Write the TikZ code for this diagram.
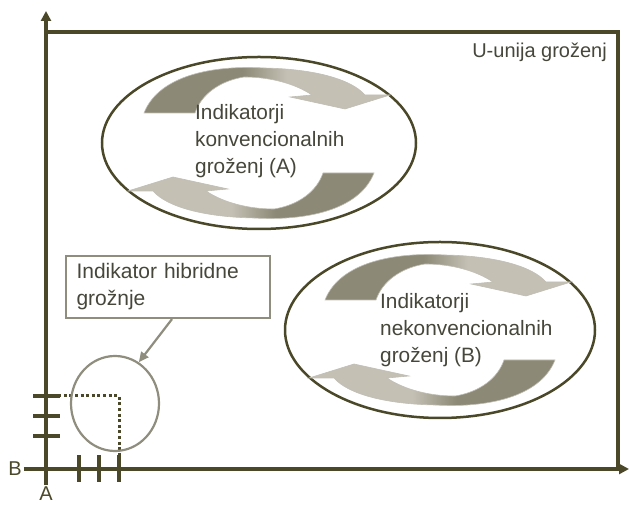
\documentclass[tikz,border=0pt]{standalone}
\usepackage{fontspec}
\setmainfont{Liberation Sans}
\usetikzlibrary{arrows.meta,shapes.geometric}

\definecolor{axiscol}{HTML}{4A4828}
\definecolor{txtcol}{HTML}{46463A}
\definecolor{boxcol}{HTML}{8E8D7E}
\definecolor{arrdark}{HTML}{8C8976}
\definecolor{arrlight}{HTML}{C4C0B4}

\pgfdeclarehorizontalshading{arrdl}{100bp}{color(0bp)=(arrdark); color(45bp)=(arrdark); color(54bp)=(arrlight); color(100bp)=(arrlight)}
\pgfdeclarehorizontalshading{arrld}{100bp}{color(0bp)=(arrlight); color(46bp)=(arrlight); color(55bp)=(arrdark); color(100bp)=(arrdark)}

\tikzset{
  axis/.style={draw=axiscol, line width=3.2pt, -{Triangle[length=10pt,width=10pt]}},
  frameline/.style={draw=axiscol, line width=3.2pt},
  tickmark/.style={draw=axiscol, line width=3.2pt},
  guide/.style={draw=axiscol, line width=3pt, dash pattern=on 3pt off 2.6pt},
  ring/.style={ellipse, draw=axiscol, line width=2.5pt, inner sep=0pt},
  ringtext/.style={anchor=west, align=left, inner sep=0pt, text=txtcol,
    font=\fontsize{20.8}{27}\selectfont},
  hybbox/.style={draw=boxcol, line width=2.2pt, minimum width=204pt, minimum height=62pt,
    text width=183pt, inner xsep=10.5pt, align=left, text=txtcol,
    font=\fontsize{21}{27}\selectfont},
  hybcircle/.style={ellipse, draw=boxcol, line width=2.2pt, minimum width=88pt,
    minimum height=95pt, inner sep=0pt},
  pointer/.style={draw=boxcol, line width=2.2pt, -{Triangle[length=10pt,width=9pt]}},
  lbl/.style={text=axiscol, inner sep=2pt, font=\fontsize{20}{24}\selectfont},
  cyclearrow/.style={draw=arrdark!55!white, line width=0.6pt}
}

% two curved arrows of one cycle, round the centre #1
\newcommand{\cyclearrows}[1]{%
  \begin{scope}[shift={#1}]
    \shadedraw[cyclearrow, shading=arrdl]
      (-115,30) .. controls (-100,68) and (-45,78) .. (5,75)
      .. controls (55,74) and (92,64) .. (106,48) -- (131,48) -- (86,34)
      -- (31,46) -- (53,48) .. controls (35,60) and (10,66) .. (-15,66)
      .. controls (-40,62) and (-58,48) .. (-64,30) -- cycle;
    \shadedraw[cyclearrow, shading=arrld]
      (115,-30) .. controls (100,-68) and (45,-78) .. (-5,-75)
      .. controls (-55,-74) and (-92,-64) .. (-106,-48) -- (-131,-48) -- (-86,-34)
      -- (-31,-46) -- (-53,-48) .. controls (-35,-60) and (-10,-66) .. (15,-66)
      .. controls (40,-62) and (58,-48) .. (64,-30) -- cycle;
  \end{scope}}

\begin{document}
\begin{tikzpicture}[x=1pt,y=1pt]
  \useasboundingbox (0,0) rectangle (629,505);

  % axes and frame
  \node[lbl] (B) at (15,36) {B};
  \node[lbl] (A) at (46,11) {A};
  \coordinate (xend) at (629,36);
  \coordinate (yend) at (46,494);
  \coordinate (tl) at (46,473);
  \coordinate (br) at (618,36);
  \draw[frameline] (tl) -| (br);
  \draw[axis] (B.east) -- (xend);
  \draw[axis] (A.north) -- (yend);
  \node[anchor=east, inner sep=0pt, text=txtcol, font=\fontsize{20}{24}\selectfont]
    (union) at (607,453) {U-unija groženj};

  % ticks and the hybrid point
  \foreach \y in {69,89,109}
    \draw[tickmark] (33,\y) -- (60,\y);
  \foreach \x in {79,99,119}
    \draw[tickmark] (\x,23) -- (\x,50);
  \coordinate (hybpt) at (119,109);
  \draw[guide] (47,109) -- (hybpt) -- (119,37);
  \node[hybcircle] (hyb) at (115,101.5) {};
  \node[hybbox] (hybrid) at (168,218) {Indikator hibridne\\grožnje};
  \draw[pointer] ([xshift=4pt]hybrid.south) -- (hyb.60);

  % conventional threats
  \node[ring, minimum width=314pt, minimum height=172pt] (ellA) at (259,362) {};
  \cyclearrows{(259,362)}
  \node[ringtext] (txtA) at (195,364) {Indikatorji\\konvencionalnih\\groženj (A)};

  % non-conventional threats
  \node[ring, minimum width=310pt, minimum height=176pt] (ellB) at (440,175) {};
  \cyclearrows{(440,175)}
  \node[ringtext] (txtB) at (380,175) {Indikatorji\\nekonvencionalnih\\groženj (B)};
\end{tikzpicture}
\end{document}
